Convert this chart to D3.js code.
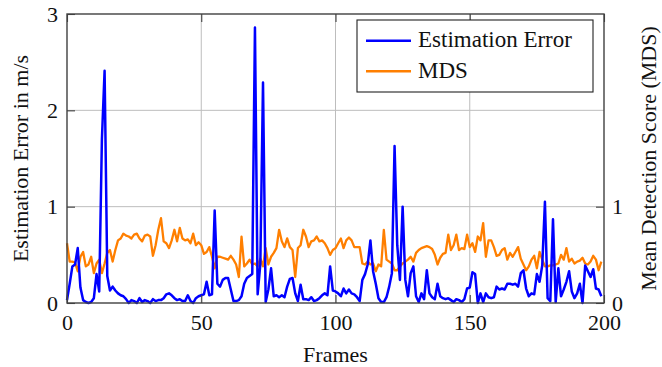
<!DOCTYPE html>
<html>
<head>
<meta charset="utf-8">
<script src="https://cdn.jsdelivr.net/npm/d3@7"></script>
<style>
  html, body { margin: 0; padding: 0; background: #fff; }
  svg { display: block; }
  text { font-family: "Liberation Serif", "Times New Roman", serif; }
</style>
</head>
<body>
<svg id="chart" width="662" height="367"></svg>
<script>
// ---- data ----
const xTicks = [0, 50, 100, 150, 200];
const yTicksLeft = [0, 1, 2, 3];
const yTicksRight = [0, 1];
const seriesNames = ["Estimation Error", "MDS"];

const estimationError = [
  0.03, 0.20, 0.38, 0.40, 0.57, 0.16, 0.03, 0.01, 0.00, 0.01,
  0.05, 0.30, 0.12, 1.70, 2.41, 0.28, 0.13, 0.17, 0.13, 0.10,
  0.08, 0.07, 0.04, 0.00, 0.03, 0.02, 0.00, 0.05, 0.01, 0.03,
  0.02, 0.00, 0.04, 0.02, 0.03, 0.03, 0.05, 0.09, 0.10, 0.08,
  0.05, 0.03, 0.04, 0.02, 0.02, 0.08, 0.02, 0.00, 0.05, 0.07,
  0.08, 0.09, 0.22, 0.08, 0.09, 0.96, 0.20, 0.17, 0.24, 0.26,
  0.26, 0.14, 0.02, 0.02, 0.03, 0.07, 0.20, 0.26, 0.28, 0.30,
  2.86, 0.09, 0.40, 2.29, 0.01, 0.14, 0.36, 0.07, 0.08, 0.06,
  0.08, 0.06, 0.17, 0.25, 0.26, 0.10, 0.02, 0.19, 0.04, 0.04,
  0.03, 0.06, 0.02, 0.03, 0.05, 0.08, 0.10, 0.08, 0.38, 0.13,
  0.12, 0.10, 0.07, 0.15, 0.10, 0.14, 0.10, 0.09, 0.06, 0.02,
  0.24, 0.30, 0.40, 0.65, 0.33, 0.20, 0.05, 0.01, 0.01, 0.06,
  0.17, 0.31, 1.63, 0.60, 0.24, 1.00, 0.24, 0.07, 0.31, 0.38,
  0.07, 0.01, 0.10, 0.04, 0.34, 0.10, 0.06, 0.04, 0.20, 0.07,
  0.05, 0.04, 0.05, 0.03, 0.01, 0.04, 0.03, 0.01, 0.04, 0.15,
  0.16, 0.32, 0.30, 0.00, 0.10, 0.01, 0.10, 0.06, 0.05, 0.06,
  0.17, 0.14, 0.15, 0.14, 0.20, 0.20, 0.19, 0.20, 0.17, 0.31,
  0.34, 0.15, 0.07, 0.10, 0.09, 0.30, 0.22, 0.39, 1.05, 0.05,
  0.02, 0.87, 0.01, 0.36, 0.07, 0.14, 0.22, 0.33, 0.12, 0.05,
  0.10, 0.20, 0.00, 0.39, 0.33, 0.27, 0.35, 0.15, 0.14, 0.07
];

const mds = [
  0.62, 0.43, 0.43, 0.42, 0.33, 0.48, 0.53, 0.38, 0.40, 0.48,
  0.31, 0.41, 0.45, 0.31, 0.41, 0.52, 0.55, 0.43, 0.55, 0.65,
  0.67, 0.72, 0.70, 0.69, 0.67, 0.71, 0.72, 0.67, 0.64, 0.70,
  0.71, 0.69, 0.49, 0.60, 0.76, 0.88, 0.64, 0.62, 0.57, 0.65,
  0.76, 0.64, 0.78, 0.67, 0.65, 0.66, 0.62, 0.72, 0.60, 0.63,
  0.60, 0.51, 0.53, 0.58, 0.48, 0.36, 0.48, 0.48, 0.47, 0.46,
  0.45, 0.49, 0.45, 0.40, 0.27, 0.69, 0.38, 0.41, 0.45, 0.40,
  0.41, 0.38, 0.46, 0.38, 0.57, 0.40, 0.48, 0.52, 0.57, 0.76,
  0.64, 0.58, 0.67, 0.58, 0.55, 0.27, 0.57, 0.60, 0.76, 0.69,
  0.58, 0.64, 0.65, 0.69, 0.64, 0.65, 0.62, 0.57, 0.50, 0.55,
  0.57, 0.62, 0.67, 0.57, 0.65, 0.68, 0.65, 0.58, 0.58, 0.58,
  0.41, 0.40, 0.43, 0.40, 0.41, 0.33, 0.40, 0.38, 0.76, 0.45,
  0.43, 0.41, 0.34, 0.34, 0.38, 0.41, 0.43, 0.45, 0.48, 0.43,
  0.52, 0.55, 0.57, 0.58, 0.59, 0.58, 0.56, 0.50, 0.40, 0.47,
  0.51, 0.52, 0.71, 0.55, 0.60, 0.71, 0.55, 0.57, 0.56, 0.71,
  0.58, 0.62, 0.53, 0.69, 0.65, 0.83, 0.48, 0.65, 0.65, 0.58,
  0.49, 0.50, 0.55, 0.57, 0.45, 0.52, 0.48, 0.53, 0.58, 0.46,
  0.40, 0.34, 0.38, 0.45, 0.49, 0.36, 0.53, 0.45, 0.38, 0.38,
  0.39, 0.39, 0.40, 0.41, 0.50, 0.45, 0.57, 0.43, 0.46, 0.41,
  0.43, 0.44, 0.47, 0.41, 0.40, 0.43, 0.49, 0.45, 0.34, 0.43
];
const frames = d3.range(estimationError.length);

// ---- layout ----
const svg = d3.select("#chart");
const L = 67, R = 604, T = 14, B = 303;
const x = d3.scaleLinear().domain([0, 200]).range([L, R]);
const y = d3.scaleLinear().domain([0, 3]).range([B, T]);
const yR = d3.scaleLinear().domain([0, 3]).range([B, T]);

const FONT = 22;
const gridColor = "#bdbdbd";
const axisColor = "#404040";

// grid
const grid = svg.append("g");
grid.selectAll("line.vx").data(xTicks.filter(d => d > 0 && d < 200)).join("line")
  .attr("x1", d => x(d)).attr("x2", d => x(d)).attr("y1", T).attr("y2", B)
  .attr("stroke", gridColor).attr("stroke-width", 1);
grid.selectAll("line.hy").data(yTicksLeft.filter(d => d > 0 && d < 3)).join("line")
  .attr("x1", L).attr("x2", R).attr("y1", d => y(d)).attr("y2", d => y(d))
  .attr("stroke", gridColor).attr("stroke-width", 1);

// series
const lineErr = d3.line().x((d, i) => x(frames[i])).y(d => y(d));
const lineMds = d3.line().x((d, i) => x(frames[i])).y(d => yR(d));
svg.append("path").datum(mds).attr("d", lineMds)
  .attr("fill", "none").attr("stroke", "#ff7f00").attr("stroke-width", 2.3)
  .attr("stroke-linejoin", "round");
svg.append("path").datum(estimationError).attr("d", lineErr)
  .attr("fill", "none").attr("stroke", "#0000ff").attr("stroke-width", 2.5)
  .attr("stroke-linejoin", "round");

// axes
function styleAxis(g) {
  g.select(".domain").remove();
  g.selectAll(".tick line").attr("stroke", axisColor).attr("stroke-width", 1.1);
  g.selectAll("text").attr("font-size", FONT).attr("fill", "#111")
    .style("font-family", "'Liberation Serif', serif");
}
svg.append("g").attr("transform", `translate(0,${B})`)
  .call(d3.axisBottom(x).tickValues(xTicks).tickSize(-8).tickPadding(11).tickFormat(d3.format("d")))
  .call(styleAxis);
svg.append("g").attr("transform", `translate(0,${T})`)
  .call(d3.axisTop(x).tickValues(xTicks).tickSize(-8).tickFormat(""))
  .call(styleAxis);
svg.append("g").attr("transform", `translate(${L},0)`)
  .call(d3.axisLeft(y).tickValues(yTicksLeft).tickSize(-8).tickPadding(9).tickFormat(d3.format("d")))
  .call(styleAxis);
svg.append("g").attr("transform", `translate(${R},0)`)
  .call(d3.axisRight(yR).tickValues(yTicksRight).tickSize(-8).tickPadding(8).tickFormat(d3.format("d")))
  .call(styleAxis);

// frame
svg.append("rect").attr("x", L).attr("y", T).attr("width", R - L).attr("height", B - T)
  .attr("fill", "none").attr("stroke", axisColor).attr("stroke-width", 1.4);

// axis titles
svg.append("text").attr("x", (L + R) / 2).attr("y", 362).attr("text-anchor", "middle")
  .attr("font-size", FONT).attr("fill", "#111").text("Frames");
svg.append("text").attr("transform", `translate(28,${(T + B) / 2}) rotate(-90)`)
  .attr("text-anchor", "middle").attr("font-size", FONT).attr("fill", "#111")
  .text("Estimation Error in m/s");
svg.append("text").attr("transform", `translate(656,${(T + B) / 2}) rotate(-90)`)
  .attr("text-anchor", "middle").attr("font-size", FONT).attr("fill", "#111")
  .text("Mean Detection Score (MDS)");

// legend
const lg = svg.append("g");
lg.append("rect").attr("x", 357).attr("y", 20).attr("width", 236).attr("height", 72)
  .attr("fill", "#fff").attr("stroke", "#222").attr("stroke-width", 1.1);
const colors = ["#0000ff", "#ff7f00"];
seriesNames.forEach((name, i) => {
  const cy = 40.7 + i * 30.5;
  lg.append("line").attr("x1", 366).attr("x2", 411).attr("y1", cy).attr("y2", cy)
    .attr("stroke", colors[i]).attr("stroke-width", 2.4);
  lg.append("text").attr("x", 418).attr("y", cy + 6.5).attr("font-size", FONT + 1)
    .attr("fill", "#111").text(name);
});
</script>
</body>
</html>
